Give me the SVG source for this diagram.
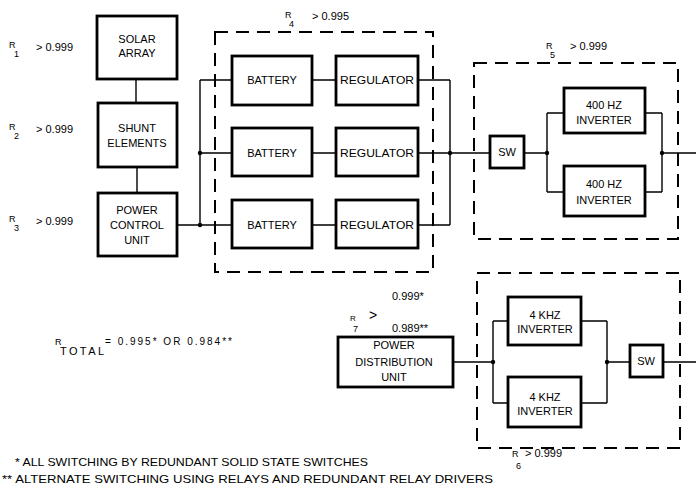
<svg xmlns="http://www.w3.org/2000/svg" width="696" height="494" viewBox="0 0 696 494">
<style>
text{font-family:"Liberation Sans",Arial,sans-serif;font-size:11px;fill:#000}
.c{text-anchor:middle}
.s{font-size:9px}
.box{fill:#fff;stroke:#000;stroke-width:2.8}
.dash{fill:none;stroke:#000;stroke-width:2;stroke-dasharray:13 8}
.ln{fill:none;stroke:#000;stroke-width:1.4}
.dot{fill:#000}
</style>
<rect width="696" height="494" fill="#fff"/>

<g id="groups">
<rect class="dash" x="215" y="32" width="218" height="240"/>
<rect class="dash" x="474" y="63" width="204" height="176"/>
<rect class="dash" x="477" y="273" width="203" height="175"/>
</g>

<g id="connectors">
<path class="ln" d="M136,79 V103 M137,167 V193"/>
<path class="ln" d="M177,225 H232 M200,80 V225 M200,80 H232 M200,153 H232"/>
<path class="ln" d="M312,80 H336 M312,153 H336 M312,225 H336"/>
<path class="ln" d="M418,80 H450 M418,153 H490 M418,225 H450 M450,80 V225"/>
<path class="ln" d="M524,153 H547 M547,113 V192 M547,113 H564 M547,192 H564"/>
<path class="ln" d="M645,113 H662 M645,192 H662 M662,113 V192 M662,153 H696"/>
<path class="ln" d="M453,362 H493 M493,321 V403 M493,321 H508 M493,403 H508"/>
<path class="ln" d="M581,321 H607 M581,403 H607 M607,321 V403 M607,362 H630 M663,362 H696"/>
<circle class="dot" cx="200" cy="153" r="2.2"/>
<circle class="dot" cx="200" cy="225" r="2.2"/>
<circle class="dot" cx="450" cy="153" r="2.2"/>
<circle class="dot" cx="547" cy="153" r="2.2"/>
<circle class="dot" cx="662" cy="153" r="2.2"/>
<circle class="dot" cx="493" cy="362" r="2.2"/>
<circle class="dot" cx="607" cy="362" r="2.2"/>
</g>

<g id="solar-array">
<rect class="box" x="97" y="16" width="80" height="63"/>
<text class="c" x="137" y="43">SOLAR</text>
<text class="c" x="137" y="57">ARRAY</text>
</g>
<g id="shunt-elements">
<rect class="box" x="98" y="103" width="79" height="64"/>
<text class="c" x="137" y="132">SHUNT</text>
<text class="c" x="137" y="147">ELEMENTS</text>
</g>
<g id="power-control-unit">
<rect class="box" x="98" y="193" width="79" height="63"/>
<text class="c" x="137" y="214">POWER</text>
<text class="c" x="137" y="229">CONTROL</text>
<text class="c" x="137" y="244">UNIT</text>
</g>

<g id="battery-1"><rect class="box" x="232" y="56" width="80" height="49"/><text class="c" x="272" y="84">BATTERY</text></g>
<g id="battery-2"><rect class="box" x="232" y="128" width="80" height="48"/><text class="c" x="272" y="157">BATTERY</text></g>
<g id="battery-3"><rect class="box" x="232" y="200" width="80" height="48"/><text class="c" x="272" y="229">BATTERY</text></g>
<g id="regulator-1"><rect class="box" x="336" y="56" width="82" height="49"/><text class="c" x="377" y="84" textLength="74" lengthAdjust="spacingAndGlyphs">REGULATOR</text></g>
<g id="regulator-2"><rect class="box" x="336" y="128" width="82" height="48"/><text class="c" x="377" y="157" textLength="74" lengthAdjust="spacingAndGlyphs">REGULATOR</text></g>
<g id="regulator-3"><rect class="box" x="336" y="200" width="82" height="48"/><text class="c" x="377" y="229" textLength="74" lengthAdjust="spacingAndGlyphs">REGULATOR</text></g>

<g id="sw-1"><rect class="box" x="490" y="136" width="34" height="32"/><text class="c" x="507" y="156">SW</text></g>
<g id="inverter-400-1"><rect class="box" x="564" y="88" width="81" height="45"/><text class="c" x="604" y="109">400 HZ</text><text class="c" x="604" y="124">INVERTER</text></g>
<g id="inverter-400-2"><rect class="box" x="564" y="166" width="81" height="50"/><text class="c" x="604" y="188">400 HZ</text><text class="c" x="604" y="204">INVERTER</text></g>

<g id="power-distribution-unit">
<rect class="box" x="338" y="337" width="115" height="50"/>
<text class="c" x="394" y="349">POWER</text>
<text class="c" x="394" y="366">DISTRIBUTION</text>
<text class="c" x="394" y="381">UNIT</text>
</g>
<g id="inverter-4k-1"><rect class="box" x="508" y="297" width="73" height="48"/><text class="c" x="545" y="319">4 KHZ</text><text class="c" x="545" y="333">INVERTER</text></g>
<g id="inverter-4k-2"><rect class="box" x="508" y="377" width="73" height="50"/><text class="c" x="545" y="401">4 KHZ</text><text class="c" x="545" y="415">INVERTER</text></g>
<g id="sw-2"><rect class="box" x="630" y="345" width="33" height="32"/><text class="c" x="646" y="365">SW</text></g>

<g id="labels">
<text class="s" x="9" y="48">R</text><text class="s" x="14" y="57">1</text><text x="36" y="51">&gt;  0.999</text>
<text class="s" x="9" y="130">R</text><text class="s" x="14" y="139">2</text><text x="36" y="133">&gt;  0.999</text>
<text class="s" x="9" y="222">R</text><text class="s" x="14" y="231">3</text><text x="36" y="225">&gt;  0.999</text>
<text class="s" x="285" y="18">R</text><text class="s" x="289" y="27">4</text><text x="312" y="20">&gt;  0.995</text>
<text class="s" x="546" y="49">R</text><text class="s" x="550" y="58">5</text><text x="570" y="50">&gt;  0.999</text>
<text class="s" x="512" y="457">R</text><text class="s" x="516" y="469">6</text><text x="525" y="457">&gt;  0.999</text>
<text class="s" x="350" y="321" style="font-size:8px">R</text><text class="s" x="353" y="332">7</text><text x="369" y="320" style="font-size:14px">&gt;</text>
<text x="392" y="300">0.999*</text>
<text x="392" y="332">0.989**</text>
<text class="s" x="55" y="345">R</text><text x="60" y="355" textLength="44">TOTAL</text><text x="105" y="345" style="font-size:10px" textLength="127">= 0.995*  OR  0.984**</text>
<text x="15" y="466" style="font-size:10.5px" textLength="353" lengthAdjust="spacingAndGlyphs">* ALL SWITCHING BY REDUNDANT SOLID STATE SWITCHES</text>
<text x="2" y="483" style="font-size:10.5px" textLength="491" lengthAdjust="spacingAndGlyphs">** ALTERNATE SWITCHING USING RELAYS AND REDUNDANT RELAY DRIVERS</text>
</g>
</svg>
